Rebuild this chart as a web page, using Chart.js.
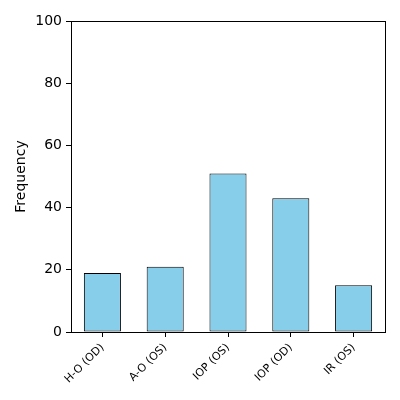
<!DOCTYPE html>
<html>
<head>
<meta charset="utf-8">
<script src="https://cdn.jsdelivr.net/npm/chart.js@4"></script>
<style>
  html, body { margin: 0; padding: 0; background: #fff; }
  #wrap { width: 400px; height: 400px; }
</style>
</head>
<body>
<div id="wrap"><canvas id="chart" width="400" height="400"></canvas></div>
<script>
const categories = ["H-O (OD)", "A-O (OS)", "IOP (OS)", "IOP (OD)", "IR (OS)"];
const frequencies = [19, 21, 51, 43, 15];
const yTicks = [0, 20, 40, 60, 80, 100];

// box around the plot area, like a matplotlib frame
const frame = {
    id: 'frame',
    afterDraw(chart) {
        const a = chart.chartArea;
        const ctx = chart.ctx;
        ctx.save();
        ctx.strokeStyle = '#000';
        ctx.lineWidth = 1;
        ctx.strokeRect(a.left + 0.5, a.top + 0.5, a.right - a.left, a.bottom - a.top);
        ctx.restore();
    }
};

Chart.defaults.font.family = 'DejaVu Sans';
Chart.defaults.color = '#000';

new Chart(document.getElementById('chart'), {
    type: 'bar',
    data: {
        labels: categories,
        datasets: [{
            label: 'Frequency',
            data: frequencies,
            backgroundColor: '#87CEEB',
            borderColor: '#000',
            borderWidth: 1,
            borderSkipped: false,
            categoryPercentage: 1,
            barPercentage: 0.59
        }]
    },
    options: {
        responsive: false,
        animation: false,
        layout: { padding: { top: 21, right: 15, left: 13, bottom: 0 } },
        plugins: {
            legend: { display: false },
            tooltip: { enabled: false }
        },
        scales: {
            x: {
                grid: { offset: false, drawOnChartArea: false, drawTicks: true, tickLength: 5, color: '#000' },
                border: { color: '#000' },
                ticks: {
                    font: { size: 11 },
                    maxRotation: 45,
                    minRotation: 45,
                    padding: 4
                },
                afterFit(scale) { scale.height = 68; }
            },
            y: {
                min: 0,
                max: 100,
                afterBuildTicks(scale) { scale.ticks = yTicks.map(v => ({ value: v })); },
                grid: { drawOnChartArea: false, drawTicks: true, tickLength: 5, color: '#000' },
                border: { color: '#000' },
                ticks: { font: { size: 14 }, padding: 4 },
                title: { display: true, text: 'Frequency', font: { size: 14 }, padding: { top: 0, bottom: 0 } },
                afterFit(scale) { scale.width = 58; }
            }
        }
    },
    plugins: [frame]
});
</script>
</body>
</html>
